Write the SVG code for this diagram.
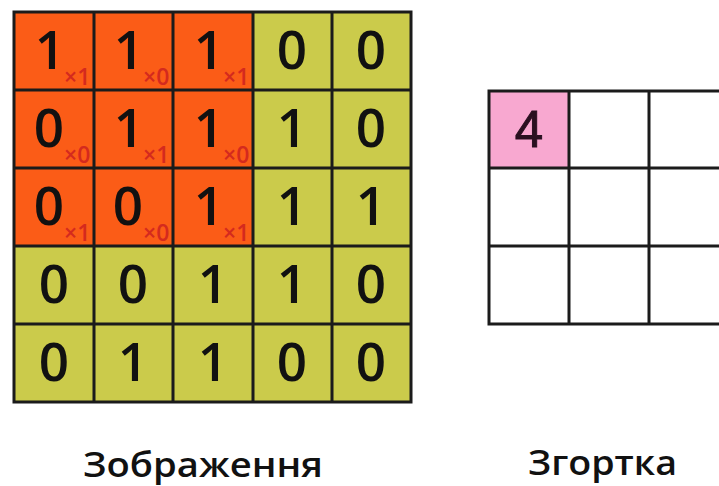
<svg xmlns="http://www.w3.org/2000/svg" width="719" height="486" viewBox="0 0 719 486">
<style>
.o{fill:#FB5C17}
.y{fill:#CBCB4B}
.g{fill:none;stroke:#1b1b1b;stroke-width:3}
.d{font-family:"Open Sans","DejaVu Sans",sans-serif;font-size:53px;font-weight:600;fill:#111;text-anchor:middle}
.s{font-family:"Open Sans","DejaVu Sans",sans-serif;font-size:23px;font-weight:600;fill:#D42A1E}
.l{font-family:"Open Sans","Noto Sans",sans-serif;font-size:35px;font-weight:600;fill:#111}
</style>
<rect width="719" height="486" fill="#fff"/>
<g id="image">
<rect x="14" y="12" width="397" height="390" class="y"/>
<rect x="14" y="12" width="239" height="234" class="o"/>
<path class="g" d="M14 12H411V402H14Z M94 12V402 M173 12V402 M253 12V402 M332 12V402 M14 90H411 M14 168H411 M14 246H411 M14 324H411"/>
<g id="digits">
<text class="d" x="50" y="69">1</text><text class="d" x="129" y="69">1</text><text class="d" x="209" y="69">1</text><text class="d" x="292" y="69">0</text><text class="d" x="371" y="69">0</text>
<text class="d" x="49" y="147">0</text><text class="d" x="129" y="147">1</text><text class="d" x="209" y="147">1</text><text class="d" x="292" y="147">1</text><text class="d" x="371" y="147">0</text>
<text class="d" x="49" y="225">0</text><text class="d" x="128" y="225">0</text><text class="d" x="209" y="225">1</text><text class="d" x="292" y="225">1</text><text class="d" x="371" y="225">1</text>
<text class="d" x="54" y="303">0</text><text class="d" x="133" y="303">0</text><text class="d" x="213" y="303">1</text><text class="d" x="292" y="303">1</text><text class="d" x="371" y="303">0</text>
<text class="d" x="54" y="381">0</text><text class="d" x="133" y="381">1</text><text class="d" x="213" y="381">1</text><text class="d" x="292" y="381">0</text><text class="d" x="371" y="381">0</text>
</g>
<g id="weights">
<text class="s" x="64" y="85">×1</text><text class="s" x="143" y="85">×0</text><text class="s" x="223" y="85">×1</text>
<text class="s" x="64" y="163">×0</text><text class="s" x="143" y="163">×1</text><text class="s" x="223" y="163">×0</text>
<text class="s" x="64" y="241">×1</text><text class="s" x="143" y="241">×0</text><text class="s" x="223" y="241">×1</text>
</g>
</g>
<g id="convolution">
<rect x="489" y="91" width="80" height="77" fill="#F8A8D0"/>
<path class="g" d="M730 91H489V324H730 M569 91V324 M649 91V324 M489 168H730 M489 246H730"/>
<text x="529" y="147" font-family="'Liberation Sans',Arial,sans-serif" font-size="51" fill="#2a1020" text-anchor="middle" stroke="#2a1020" stroke-width="1">4</text>
</g>
<g id="labels">
<text class="l" x="83" y="477" textLength="240" lengthAdjust="spacingAndGlyphs">Зображення</text>
<text class="l" x="528" y="475" textLength="149" lengthAdjust="spacingAndGlyphs">Згортка</text>
</g>
</svg>
